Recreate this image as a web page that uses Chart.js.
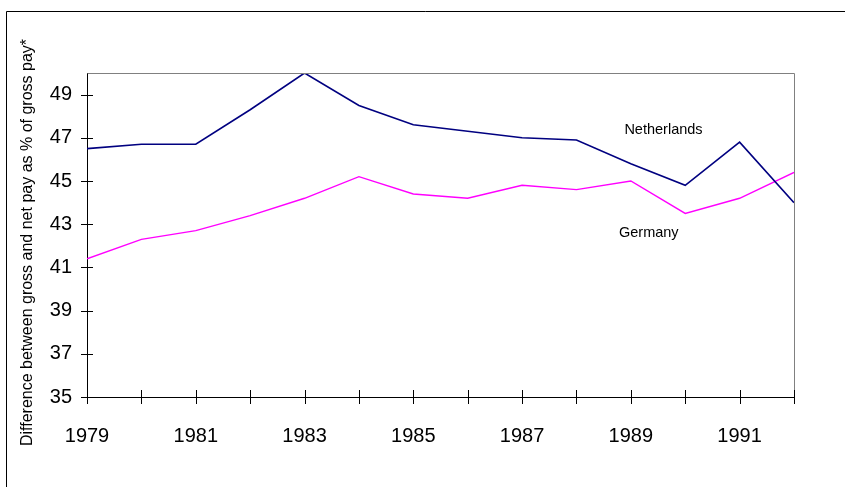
<!DOCTYPE html>
<html>
<head>
<meta charset="utf-8">
<script src="https://cdn.jsdelivr.net/npm/chart.js@4.4.1/dist/chart.umd.min.js"></script>
<style>
  html, body { margin: 0; padding: 0; background: #ffffff; }
  #wrap { width: 845px; height: 487px; position: relative; }
</style>
</head>
<body>
<div id="wrap"><canvas id="c" width="845" height="487"></canvas></div>
<script>
const years = [1979, 1980, 1981, 1982, 1983, 1984, 1985, 1986, 1987, 1988, 1989, 1990, 1991, 1992];
const netherlands = [46.5, 46.7, 46.7, 48.3, 50.0, 48.5, 47.6, 47.3, 47.0, 46.9, 45.8, 44.8, 46.8, 44.0];
const germany = [41.4, 42.3, 42.7, 43.4, 44.2, 45.2, 44.4, 44.2, 44.8, 44.6, 45.0, 43.5, 44.2, 45.4];
const xTickLabels = ['1979', '1981', '1983', '1985', '1987', '1989', '1991'];
const yTickValues = [35, 37, 39, 41, 43, 45, 47, 49];
const yAxisTitle = 'Difference between gross and net pay as % of gross pay*';
const seriesLabels = [
  { text: 'Netherlands', x: 1989.6, y: 47.36 },
  { text: 'Germany', x: 1989.33, y: 42.59 }
];

const FONT = '"Liberation Sans", Arial, sans-serif';

const decor = {
  id: 'decor',
  afterDraw(chart) {
    const ctx = chart.ctx;
    const a = chart.chartArea;
    const xs = chart.scales.x, ys = chart.scales.y;
    ctx.save();
    // outer frame (top and left visible)
    ctx.strokeStyle = '#000000';
    ctx.lineWidth = 1;
    ctx.beginPath();
    ctx.moveTo(6.5, 487);
    ctx.lineTo(6.5, 11.5);
    ctx.lineTo(845, 11.5);
    ctx.stroke();
    // plot top/right border (gray)
    ctx.strokeStyle = '#808080';
    ctx.beginPath();
    ctx.moveTo(Math.round(a.left) + 0.5, Math.round(a.top) + 0.5);
    ctx.lineTo(Math.round(a.right) + 0.5, Math.round(a.top) + 0.5);
    ctx.lineTo(Math.round(a.right) + 0.5, Math.round(a.bottom) + 0.5);
    ctx.stroke();
    // crossing tick marks
    ctx.strokeStyle = '#000000';
    ctx.beginPath();
    yTickValues.forEach(v => {
      const py = Math.round(ys.getPixelForValue(v)) + 0.5;
      ctx.moveTo(a.left - 6, py);
      ctx.lineTo(a.left + 6, py);
    });
    years.forEach(v => {
      const px = Math.round(xs.getPixelForValue(v)) + 0.5;
      ctx.moveTo(px, a.bottom - 7);
      ctx.lineTo(px, a.bottom + 7);
    });
    ctx.stroke();
    // series labels
    ctx.fillStyle = '#000000';
    ctx.font = '14.5px ' + FONT;
    ctx.textAlign = 'center';
    ctx.textBaseline = 'middle';
    seriesLabels.forEach(l => {
      ctx.fillText(l.text, xs.getPixelForValue(l.x), ys.getPixelForValue(l.y));
    });
    // y axis title
    ctx.font = '16px ' + FONT;
    ctx.translate(28, 242.5);
    ctx.rotate(-Math.PI / 2);
    ctx.fillText(yAxisTitle, 0, 0);
    ctx.restore();
  }
};

new Chart(document.getElementById('c'), {
  type: 'line',
  data: {
    datasets: [
      {
        label: 'Netherlands',
        data: years.map((y, i) => ({ x: y, y: netherlands[i] })),
        borderColor: '#000080',
        borderWidth: 1.6,
        pointRadius: 0,
        tension: 0,
        fill: false
      },
      {
        label: 'Germany',
        data: years.map((y, i) => ({ x: y, y: germany[i] })),
        borderColor: '#FF00FF',
        borderWidth: 1.4,
        pointRadius: 0,
        tension: 0,
        fill: false
      }
    ]
  },
  options: {
    responsive: false,
    animation: false,
    devicePixelRatio: 1,
    layout: { padding: { top: 73, right: 51, left: 0, bottom: 0 } },
    plugins: {
      legend: { display: false },
      tooltip: { enabled: false }
    },
    scales: {
      x: {
        type: 'linear',
        min: 1979,
        max: 1992,
        afterBuildTicks: s => { s.ticks = years.map(v => ({ value: v })); },
        afterFit: s => { s.height = 90; },
        grid: { display: false, drawTicks: false },
        border: { display: true, color: '#000000', width: 1 },
        ticks: {
          autoSkip: false,
          maxRotation: 0,
          padding: 27,
          color: '#000000',
          font: { family: FONT, size: 20 },
          callback: v => (xTickLabels.includes(String(v)) ? String(v) : '')
        }
      },
      y: {
        min: 35,
        max: 50,
        afterBuildTicks: s => { s.ticks = yTickValues.map(v => ({ value: v })); },
        afterFit: s => { s.width = 87; },
        grid: { display: false, drawTicks: false },
        border: { display: true, color: '#000000', width: 1 },
        ticks: {
          padding: 15,
          color: '#000000',
          font: { family: FONT, size: 20 }
        }
      }
    }
  },
  plugins: [decor]
});
</script>
</body>
</html>
